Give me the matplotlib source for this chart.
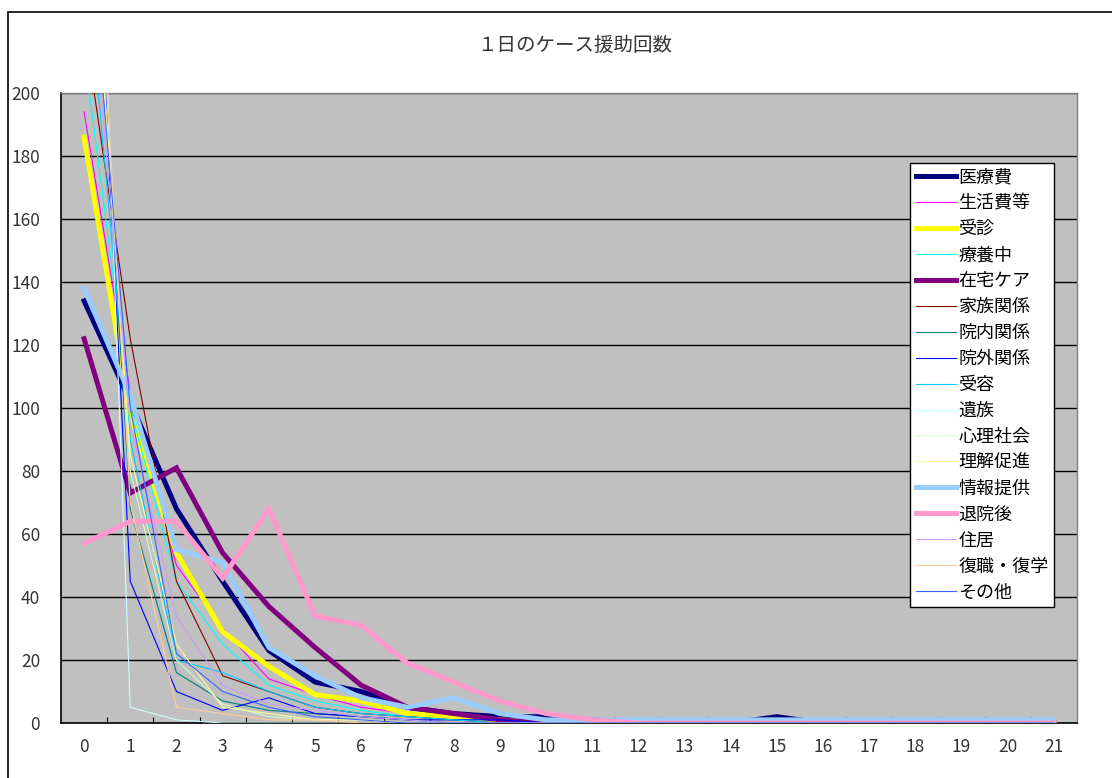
import numpy as np
import matplotlib
matplotlib.use("Agg")
import matplotlib.pyplot as plt
from matplotlib.patches import Rectangle

plt.rcParams['font.family'] = ['Noto Sans CJK JP', 'DejaVu Sans']

# 1日あたりの援助回数 (0..21) ごとの日数
counts = list(range(22))

iryouhi    = [134, 102, 68, 45, 23, 13, 10, 5, 3, 2, 2, 1, 0, 0, 0, 2, 0, 0, 0, 0, 0, 0]
seikatsu   = [194, 105, 50, 30, 14, 9, 5, 3, 2, 1, 0, 0, 0, 0, 0, 0, 0, 0, 0, 0, 0, 0]
jushin     = [186, 98, 54, 29, 18, 9, 7, 3, 2, 1, 0, 0, 0, 0, 0, 0, 0, 0, 0, 0, 0, 0]
ryouyou    = [213, 100, 45, 25, 12, 7, 4, 2, 1, 1, 0, 0, 0, 0, 0, 0, 0, 0, 0, 0, 0, 0]
zaitaku    = [122, 73, 81, 54, 37, 24, 12, 5, 3, 1, 0, 0, 0, 0, 0, 0, 0, 0, 0, 0, 0, 0]
kazoku     = [222, 122, 45, 15, 10, 5, 3, 2, 1, 0, 0, 0, 0, 0, 0, 0, 0, 0, 0, 0, 0, 0]
innai      = [308, 68, 16, 7, 4, 3, 2, 1, 0, 0, 0, 0, 0, 0, 0, 0, 0, 0, 0, 0, 0, 0]
ingai      = [335, 45, 10, 4, 8, 3, 2, 1, 1, 1, 0, 0, 0, 0, 0, 0, 0, 0, 0, 0, 0, 0]
juyou      = [249, 90, 20, 16, 10, 5, 3, 2, 1, 0, 0, 0, 0, 0, 0, 0, 0, 0, 0, 0, 0, 0]
izoku      = [404, 5, 1, 0, 0, 0, 0, 0, 0, 0, 0, 0, 0, 0, 0, 0, 0, 0, 0, 0, 0, 0]
shinri     = [300, 80, 20, 6, 2, 1, 1, 0, 0, 0, 0, 0, 0, 0, 0, 0, 0, 0, 0, 0, 0, 0]
rikai      = [290, 85, 25, 5, 3, 1, 1, 0, 0, 0, 0, 0, 0, 0, 0, 0, 0, 0, 0, 0, 0, 0]
jouhou     = [138, 104, 55, 51, 24, 15, 8, 5, 8, 3, 1, 1, 1, 1, 1, 1, 1, 1, 1, 1, 1, 1]
taiin      = [57, 64, 64, 46, 68, 34, 31, 19, 13, 7, 3, 1, 0, 0, 0, 0, 0, 0, 0, 0, 0, 0]
jukyo      = [260, 95, 34, 12, 6, 4, 2, 1, 0, 0, 0, 0, 0, 0, 0, 0, 0, 0, 0, 0, 0, 0]
fukushoku  = [330, 70, 5, 3, 1, 1, 0, 0, 0, 0, 0, 0, 0, 0, 0, 0, 0, 0, 0, 0, 0, 0]
sonota     = [270, 100, 22, 10, 5, 2, 1, 0, 0, 0, 0, 0, 0, 0, 0, 0, 0, 0, 0, 0, 0, 0]

series = [
    ("医療費", iryouhi, "#000080", 3.6),
    ("生活費等", seikatsu, "#FF00FF", 0.8),
    ("受診", jushin, "#FFFF00", 3.6),
    ("療養中", ryouyou, "#00FFFF", 0.8),
    ("在宅ケア", zaitaku, "#800080", 3.6),
    ("家族関係", kazoku, "#800000", 0.8),
    ("院内関係", innai, "#008080", 0.8),
    ("院外関係", ingai, "#0000FF", 0.8),
    ("受容", juyou, "#00CCFF", 0.8),
    ("遺族", izoku, "#CCFFFF", 0.8),
    ("心理社会", shinri, "#CCFFCC", 0.8),
    ("理解促進", rikai, "#FFFF99", 0.8),
    ("情報提供", jouhou, "#99CCFF", 3.6),
    ("退院後", taiin, "#FF99CC", 3.6),
    ("住居", jukyo, "#CC99FF", 0.8),
    ("復職・復学", fukushoku, "#FFCC99", 0.8),
    ("その他", sonota, "#3366FF", 0.8),
]

fig = plt.figure(figsize=(11.12, 7.78), dpi=100)
fig.patch.set_facecolor("white")
# chart area border
fig.add_artist(Rectangle((8 / 1112, -0.1), 1.2, 1 - 12 / 778 + 0.1,
                         transform=fig.transFigure, fill=False,
                         edgecolor="black", linewidth=1.2))

ax = fig.add_axes([61 / 1112, 1 - 723 / 778, 1016 / 1112, 630 / 778])
ax.set_facecolor("#C0C0C0")

for i, (name, vals, col, lw) in enumerate(series):
    ax.plot(counts, vals, color=col, linewidth=lw, label=name,
            solid_joinstyle="miter", zorder=3 + i * 0.01)

ax.set_xlim(-0.5, 21.5)
ax.set_ylim(0, 200)
ax.set_yticks(np.arange(0, 201, 20))
ax.set_xticks(counts)
ax.set_xticks(np.arange(0.5, 21, 1), minor=True)
ax.yaxis.grid(True, color="black", linewidth=1.0)
ax.set_axisbelow(True)

ax.tick_params(axis="x", which="major", length=0, pad=11, labelsize=12.5)
ax.tick_params(axis="x", which="minor", direction="in", length=4,
               color="black", width=0.8)
ax.tick_params(axis="y", length=0, pad=15, labelsize=12.5)
for lab in ax.get_xticklabels() + ax.get_yticklabels():
    lab.set_color("#333333")

for side in ["left", "bottom"]:
    ax.spines[side].set_color("black")
    ax.spines[side].set_linewidth(1.2)
for side in ["top", "right"]:
    ax.spines[side].set_color("#808080")
    ax.spines[side].set_linewidth(1.0)

fig.text(575 / 1112, 1 - 45 / 778, "１日のケース援助回数", ha="center",
         va="center", fontsize=14, color="#333333")

leg = ax.legend(loc="upper left", bbox_to_anchor=(0.836, 0.889),
                frameon=True, fancybox=False, fontsize=13,
                handlelength=2.2, handletextpad=0.15, labelspacing=0.44,
                borderpad=0.3, borderaxespad=0)
leg.get_frame().set_edgecolor("black")
leg.get_frame().set_linewidth(1.0)
leg.get_frame().set_alpha(1)

fig.savefig("out.png", dpi=100)
